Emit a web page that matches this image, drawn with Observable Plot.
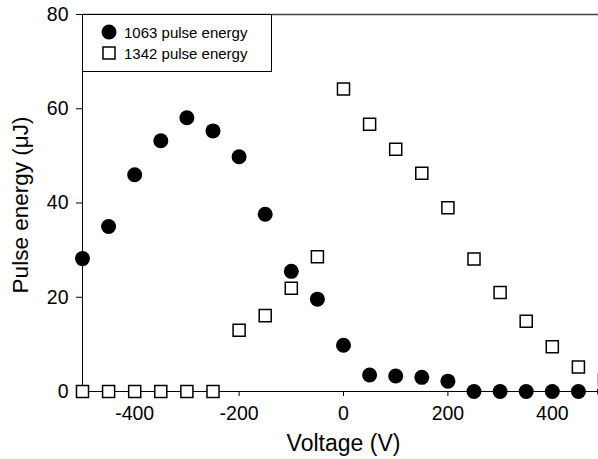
<!DOCTYPE html>
<html><head><meta charset="utf-8">
<script src="https://cdn.jsdelivr.net/npm/d3@7"></script>
<script src="https://cdn.jsdelivr.net/npm/@observablehq/plot@0.6"></script>
<style>
body{margin:0;background:#fff;overflow:hidden}
#chart{width:598px;height:459px;overflow:hidden}
</style>
</head><body><div id="chart"></div>
<script>
const voltage = [-500,-450,-400,-350,-300,-250,-200,-150,-100,-50,0,50,100,150,200,250,300,350,400,450,500];
const energy1063 = [28.2,35.0,46.0,53.2,58.1,55.3,49.8,37.6,25.5,19.6,9.8,3.5,3.3,3.0,2.2,0,0,0,0,0,0];
const energy1342 = [0,0,0,0,0,0,13.0,16.1,21.9,28.6,64.2,56.7,51.4,46.3,39.0,28.1,21.0,14.9,9.5,5.2,2.5];
const xTicks = [-400,-200,0,200,400];
const yTicks = [0,20,40,60,80];
const seriesNames = ["1063 pulse energy","1342 pulse energy"];
const xTitle = "Voltage (V)";
const yTitle = "Pulse energy (\u03bcJ)";

const rows1063 = voltage.map((v,i)=>({v, e: energy1063[i]}));
const rows1342 = voltage.map((v,i)=>({v, e: energy1342[i]}));

const font = "'Liberation Sans', Arial, sans-serif";
const chart = Plot.plot({
  width: 598, height: 459,
  marginLeft: 82, marginRight: -6, marginTop: 14, marginBottom: 68,
  x: {domain: [-500, 500]},
  y: {domain: [0, 80]},
  style: {fontFamily: font, background: "#fff", color: "#000", fontSize: "19.5px"},
  marks: [
    Plot.ruleY([80], {stroke: "#444", strokeWidth: 1.6}),
    Plot.axisY({ticks: yTicks, tickSize: 6, tickPadding: 8, fontSize: 19.5, label: null, tickFormat: d => String(d)}),
    Plot.axisX({ticks: xTicks, tickSize: 5, tickPadding: 10, fontSize: 19.5, label: null, tickFormat: d => String(d)}),
    Plot.ruleX([-500], {stroke: "#000"}),
    Plot.ruleY([0], {stroke: "#000"}),
    Plot.text([xTitle], {text: d => d, frameAnchor: "bottom", textAnchor: "middle", lineAnchor: "middle", dy: 52, fontSize: 23}),
    Plot.text([yTitle], {text: d => d, frameAnchor: "left", textAnchor: "middle", lineAnchor: "middle", dx: -62, dy: 2, rotate: -90, fontSize: 22.5}),
    Plot.dot(rows1342, {x: "v", y: "e", symbol: "square", r: 6.8, fill: "#fff", stroke: "#000", strokeWidth: 1.5}),
    Plot.dot(rows1063, {x: "v", y: "e", r: 7.5, fill: "#000", stroke: "none"})
  ]
});
document.getElementById("chart").appendChild(chart);

// legend
const svg = d3.select(chart);
const g = svg.append("g").attr("font-family", font).attr("font-size", 15).attr("text-anchor", "start");
g.append("rect").attr("x", 82.5).attr("y", 14.5).attr("width", 189).attr("height", 57)
  .attr("fill", "#fff").attr("stroke", "#000").attr("stroke-width", 1);
g.append("circle").attr("cx", 109).attr("cy", 32).attr("r", 7.5).attr("fill", "#000");
g.append("rect").attr("x", 103).attr("y", 47).attr("width", 12).attr("height", 12)
  .attr("fill", "#fff").attr("stroke", "#000").attr("stroke-width", 1.5);
g.append("text").attr("x", 124).attr("y", 37.5).attr("fill", "#000").text(seriesNames[0]);
g.append("text").attr("x", 124).attr("y", 58.5).attr("fill", "#000").text(seriesNames[1]);
</script>
</body></html>
